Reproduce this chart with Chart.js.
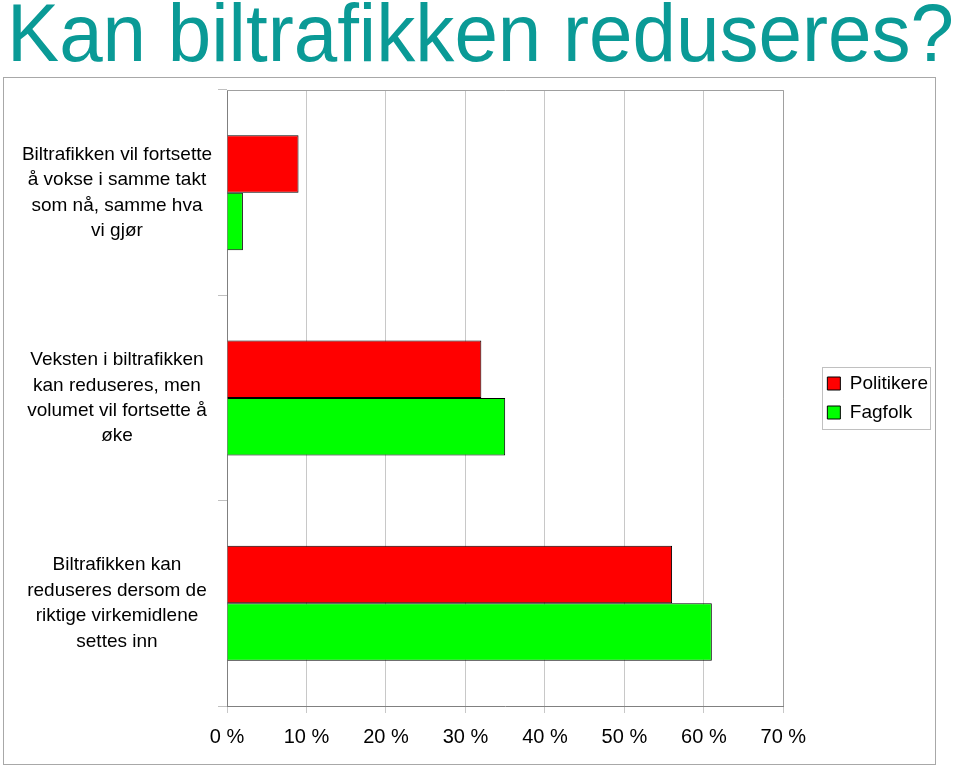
<!DOCTYPE html>
<html>
<head>
<meta charset="utf-8">
<script src="https://cdn.jsdelivr.net/npm/chart.js@4"></script>
<style>
  html, body { margin: 0; padding: 0; background: #fff; width: 960px; height: 767px; overflow: hidden; }
  #title { position: absolute; left: 7px; top: -14px; font-family: "Liberation Sans", Arial, sans-serif; font-size: 82px; line-height: 94px; color: #0a9a96; white-space: nowrap; transform-origin: 0 0; }
  #box { position: absolute; left: 3px; top: 77px; width: 933px; height: 688px; border: 1px solid #a8a8a8; box-sizing: border-box; }
  #c { position: absolute; left: 0; top: 0; }
</style>
</head>
<body>
<div id="title">Kan biltrafikken reduseres?</div>
<div id="box"><canvas id="c" width="931" height="686"></canvas></div>
<script>
const categories = [
  ["Biltrafikken vil fortsette", "å vokse i samme takt", "som nå, samme hva", "vi gjør"],
  ["Veksten i biltrafikken", "kan reduseres, men", "volumet vil fortsette å", "øke"],
  ["Biltrafikken kan", "reduseres dersom de", "riktige virkemidlene", "settes inn"]
];
const seriesNames = ["Politikere", "Fagfolk"];
const politikere = [9, 32, 56];
const fagfolk = [2, 35, 61];
const xTicks = [0, 10, 20, 30, 40, 50, 60, 70];

const font = "'Liberation Sans', Arial, sans-serif";

const frame = {
  id: 'frame',
  afterLayout(chart) {
    const lg = chart.legend, a = chart.chartArea;
    lg.top = a.top; lg.bottom = a.bottom; lg.height = a.bottom - a.top;
    lg.left += 5; lg.right += 5;
  },
  afterDraw(chart) {
    const ctx = chart.ctx, a = chart.chartArea, lg = chart.legend;
    ctx.save();
    ctx.strokeStyle = '#a0a0a0';
    ctx.lineWidth = 1;
    ctx.beginPath();
    ctx.moveTo(a.left, a.top + 0.5); ctx.lineTo(Math.round(a.right) + 0.5, a.top + 0.5);
    ctx.lineTo(Math.round(a.right) + 0.5, a.bottom);
    ctx.stroke();
    const pad = lg.options.labels.padding;
    const colH = (lg.columnSizes && lg.columnSizes[0]) ? lg.columnSizes[0].height : 50;
    const cy = (lg.top + lg.bottom) / 2;
    const bx = Math.round(lg.left + pad - 5) + 0.5;
    const by = Math.round(cy - colH / 2 - 2) + 0.5;
    const bw = Math.round(lg.width - 2 * pad + 7);
    const bh = Math.round(colH + 4);
    ctx.strokeStyle = '#c0c0c0';
    ctx.strokeRect(bx, by, bw, bh);
    ctx.restore();
  }
};

(function(){
  const t = document.getElementById('title');
  const w = t.getBoundingClientRect().width;
  t.style.transform = 'scaleX(' + (947 / w) + ')';
})();

new Chart(document.getElementById('c'), {
  type: 'bar',
  data: {
    labels: categories,
    datasets: [
      { label: seriesNames[0], data: politikere, backgroundColor: '#ff0000', borderColor: '#000000', borderWidth: 1 },
      { label: seriesNames[1], data: fagfolk, backgroundColor: '#00ff00', borderColor: '#000000', borderWidth: 1 }
    ]
  },
  options: {
    indexAxis: 'y',
    responsive: false,
    animation: false,
    layout: { padding: { left: 0, right: 2, top: 12, bottom: 0 } },
    datasets: { bar: { categoryPercentage: 0.56, barPercentage: 1.0 } },
    scales: {
      x: {
        min: 0, max: 70,
        afterBuildTicks(scale) { scale.ticks = xTicks.map(v => ({ value: v })); },
        afterFit(scale) { scale.height = 58; scale.paddingLeft = 0; scale.paddingRight = 0; },
        ticks: { color: '#000', font: { family: font, size: 20 }, padding: 12, callback: v => v + ' %' },
        grid: { color: '#c8c8c8', tickLength: 7, tickColor: '#c8c8c8' },
        border: { color: '#808080' }
      },
      y: {
        afterFit(scale) { scale.width = 223; scale.paddingTop = 0; scale.paddingBottom = 0; },
        ticks: { color: '#000', font: { family: font, size: 19, lineHeight: 1.34 }, crossAlign: 'center', padding: 6 },
        grid: { offset: true, drawOnChartArea: false, tickLength: 9, tickColor: '#c0c0c0' },
        border: { color: '#808080' }
      },
      y2: {
        position: 'right',
        display: true,
        afterFit(scale) { scale.width = 29; scale.paddingTop = 0; scale.paddingBottom = 0; },
        ticks: { display: false },
        grid: { display: false },
        border: { display: false }
      }
    },
    plugins: {
      legend: {
        position: 'right',
        labels: { font: { family: font, size: 19 }, color: '#000', boxWidth: 13, boxHeight: 13, padding: 10 }
      },
      tooltip: { enabled: false }
    }
  },
  plugins: [frame]
});
</script>
</body>
</html>
